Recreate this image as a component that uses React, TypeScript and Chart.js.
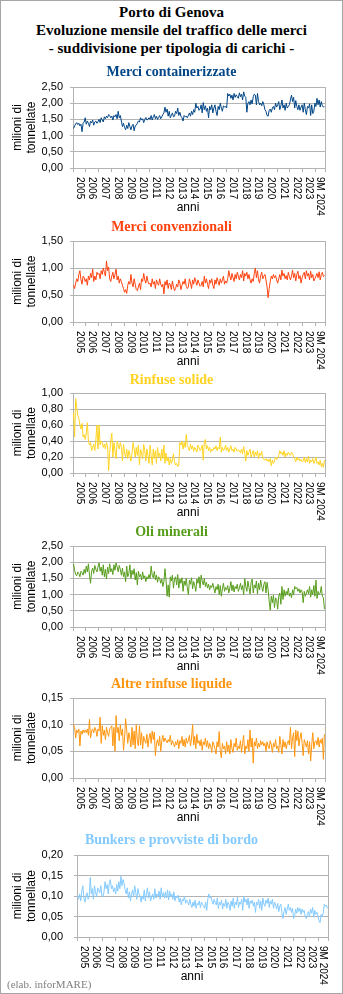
import React, { useEffect, useRef } from 'react';
import { Chart, registerables } from 'chart.js';

Chart.register(...registerables);

// ---------- DATA (monthly, Jan 2005 – Sep 2024, million tonnes) ----------
const yearLabels = [
  '2005', '2006', '2007', '2008', '2009', '2010', '2011', '2012', '2013', '2014',
  '2015', '2016', '2017', '2018', '2019', '2020', '2021', '2022', '2023', '9M 2024',
];
const monthsPerYear = [12, 12, 12, 12, 12, 12, 12, 12, 12, 12, 12, 12, 12, 12, 12, 12, 12, 12, 12, 9];

const merciContainerizzate = [
  1.22, 1.30, 1.36, 1.40, 1.34, 1.38, 1.30, 1.35, 1.12, 1.38, 1.42, 1.55,
  1.35, 1.45, 1.38, 1.28, 1.44, 1.40, 1.48, 1.32, 1.42, 1.45, 1.38, 1.43,
  1.50, 1.40, 1.55, 1.48, 1.42, 1.58, 1.52, 1.60, 1.55, 1.65, 1.62, 1.55,
  1.60, 1.48, 1.62, 1.58, 1.65, 1.52, 1.75, 1.55, 1.62, 1.45, 1.28, 1.38,
  1.25, 1.18, 1.32, 1.22, 1.40, 1.28, 1.18, 1.30, 1.35, 1.15, 1.30, 1.32,
  1.38, 1.45, 1.42, 1.55, 1.48, 1.52, 1.40, 1.50, 1.56, 1.48, 1.50, 1.55,
  1.50, 1.62, 1.48, 1.58, 1.65, 1.52, 1.60, 1.50, 1.56, 1.62, 1.52, 1.58,
  1.65, 1.70, 1.88, 1.72, 1.82, 1.60, 1.75, 1.55, 1.62, 1.70, 1.58, 1.60,
  1.75, 1.68, 1.85, 1.62, 1.72, 1.60, 1.55, 1.45, 1.62, 1.58, 1.60, 1.55,
  1.62, 1.70, 1.60, 1.75, 1.65, 1.80, 1.72, 2.00, 1.85, 1.90, 1.78, 1.82,
  1.95, 1.70, 2.02, 1.80, 1.92, 1.75, 1.85, 1.55, 1.90, 1.80, 1.95, 1.70,
  1.85, 1.95, 1.75, 1.62, 1.90, 1.80, 2.00, 1.85, 1.75, 1.92, 1.88, 1.90,
  1.85, 2.30, 2.22, 2.28, 2.15, 2.25, 2.10, 2.30, 2.18, 2.26, 2.20, 2.15,
  2.32, 2.20, 2.28, 2.10, 2.35, 2.22, 2.18, 1.72, 2.00, 2.05, 1.95, 2.10,
  1.98, 2.20, 2.28, 2.25, 1.95, 2.30, 2.05, 1.95, 2.00, 1.92, 2.05, 1.95,
  1.80, 1.75, 1.62, 1.60, 1.78, 1.82, 1.72, 1.85, 1.90, 1.80, 2.00, 1.88,
  1.95, 2.05, 1.80, 1.92, 2.10, 1.85, 1.95, 1.78, 2.00, 1.85, 1.90, 1.95,
  2.10, 2.25, 2.05, 2.18, 1.85, 2.08, 1.90, 1.80, 1.95, 1.78, 1.88, 1.95,
  1.72, 2.00, 1.80, 1.65, 1.90, 1.85, 1.98, 1.62, 1.95, 1.68, 1.75, 2.00,
  1.90, 2.15, 1.95, 2.10, 1.88, 2.05, 1.92, 1.88, 1.90,
];

const merciConvenzionali = [
  0.68, 0.62, 0.72, 0.80, 0.75, 0.88, 0.95, 0.78, 0.70, 0.85, 0.82, 0.75,
  0.80, 0.68, 0.85, 0.78, 0.90, 0.82, 0.98, 0.75, 0.85, 0.78, 0.92, 0.88,
  0.90, 0.80, 0.95, 0.88, 1.00, 0.92, 0.85, 1.13, 0.95, 1.02, 0.80, 0.75,
  0.85, 0.92, 0.80, 0.88, 0.98, 0.78, 0.85, 0.72, 0.80, 0.75, 0.68, 0.62,
  0.55, 0.60, 0.53, 0.68, 0.75, 0.70, 0.88, 0.72, 0.65, 0.80, 0.70, 0.60,
  0.58, 0.65, 0.72, 0.60, 0.80, 0.75, 0.90, 0.78, 0.72, 0.85, 0.75, 0.70,
  0.72, 0.65, 0.80, 0.70, 0.75, 0.62, 0.78, 0.72, 0.68, 0.80, 0.70, 0.65,
  0.70, 0.52, 0.75, 0.68, 0.78, 0.62, 0.72, 0.70, 0.60, 0.76, 0.65, 0.58,
  0.62, 0.70, 0.65, 0.78, 0.72, 0.60, 0.68, 0.75, 0.70, 0.80, 0.66, 0.62,
  0.65, 0.80, 0.72, 0.62, 0.78, 0.70, 0.82, 0.75, 0.68, 0.78, 0.72, 0.66,
  0.68, 0.75, 0.65, 0.85, 0.72, 0.80, 0.70, 0.62, 0.78, 0.72, 0.80, 0.68,
  0.62, 0.78, 0.70, 0.82, 0.75, 0.68, 0.80, 0.72, 0.78, 0.85, 0.70, 0.76,
  0.72, 0.80, 0.95, 0.85, 0.78, 0.90, 0.82, 0.75, 0.88, 0.80, 0.92, 0.85,
  0.78, 0.88, 0.82, 0.95, 0.76, 0.90, 0.85, 0.92, 0.80, 0.88, 0.78, 0.72,
  0.80, 0.75, 0.90, 1.00, 0.82, 0.95, 0.78, 0.72, 0.86, 0.92, 0.80, 0.85,
  0.88, 0.78, 0.65, 0.45, 0.62, 0.75, 0.85, 0.80, 0.88, 0.82, 0.86, 0.78,
  0.72, 0.80, 0.88, 0.78, 0.96, 0.85, 0.90, 0.80, 0.86, 0.78, 0.92, 0.84,
  0.78, 0.85, 0.96, 0.82, 0.90, 0.76, 0.88, 0.94, 0.80, 0.86, 0.72, 0.82,
  0.88, 0.92, 0.80, 0.95, 0.85, 0.90, 0.78, 0.94, 0.82, 0.88, 0.76, 0.80,
  0.85, 0.90, 0.82, 0.93, 0.78, 0.88, 0.92, 0.84, 0.86,
];

const rinfuseSolide = [
  0.75, 0.45, 0.93, 0.82, 0.72, 0.68, 0.60, 0.55, 0.62, 0.45, 0.48, 0.42,
  0.50, 0.63, 0.40, 0.35, 0.38, 0.28, 0.32, 0.36, 0.28, 0.42, 0.60, 0.30,
  0.60, 0.35, 0.40, 0.38, 0.32, 0.36, 0.30, 0.38, 0.34, 0.03, 0.25, 0.40,
  0.50, 0.20, 0.38, 0.28, 0.18, 0.40, 0.35, 0.30, 0.38, 0.32, 0.15, 0.36,
  0.25, 0.20, 0.30, 0.18, 0.28, 0.22, 0.15, 0.25, 0.38, 0.30, 0.20, 0.32,
  0.22, 0.35, 0.10, 0.30, 0.25, 0.18, 0.36, 0.28, 0.15, 0.30, 0.22, 0.12,
  0.35, 0.22, 0.10, 0.30, 0.18, 0.28, 0.12, 0.32, 0.20, 0.25, 0.15, 0.30,
  0.18, 0.35, 0.12, 0.25, 0.15, 0.20, 0.10, 0.18, 0.12, 0.16, 0.24, 0.14,
  0.10, 0.12, 0.08, 0.10, 0.38, 0.35, 0.40, 0.30, 0.38, 0.32, 0.48, 0.34,
  0.32, 0.28, 0.36, 0.30, 0.34, 0.27, 0.32, 0.30, 0.26, 0.35, 0.32, 0.28,
  0.30, 0.35, 0.16, 0.38, 0.42, 0.30, 0.34, 0.28, 0.32, 0.26, 0.30, 0.28,
  0.32, 0.30, 0.34, 0.28, 0.32, 0.30, 0.45, 0.26, 0.32, 0.28, 0.30, 0.35,
  0.28, 0.32, 0.26, 0.30, 0.34, 0.28, 0.30, 0.26, 0.32, 0.30, 0.27, 0.29,
  0.28, 0.25, 0.30, 0.24, 0.33, 0.26, 0.15, 0.28, 0.22, 0.26, 0.30, 0.20,
  0.24, 0.28, 0.20, 0.26, 0.22, 0.28, 0.18, 0.25, 0.22, 0.27, 0.18, 0.17,
  0.16, 0.18, 0.15, 0.17, 0.14, 0.18, 0.09, 0.16, 0.12, 0.15, 0.20, 0.17,
  0.18, 0.22, 0.28, 0.24, 0.26, 0.22, 0.28, 0.20, 0.25, 0.22, 0.26, 0.24,
  0.22, 0.26, 0.24, 0.20, 0.18, 0.14, 0.20, 0.16, 0.18, 0.15, 0.17, 0.14,
  0.15, 0.20, 0.13, 0.18, 0.14, 0.21, 0.12, 0.16, 0.14, 0.18, 0.12, 0.15,
  0.20, 0.12, 0.14, 0.10, 0.16, 0.08, 0.12, 0.07, 0.16,
];

const oliMinerali = [
  1.95, 1.75, 1.62, 1.58, 1.70, 1.65, 1.55, 1.72, 1.68, 1.60, 1.78, 1.65,
  1.88, 1.70, 1.95, 1.60, 1.35, 1.72, 1.82, 1.65, 1.90, 1.78, 1.70, 1.85,
  1.98, 1.72, 1.85, 1.60, 1.92, 1.55, 1.78, 1.48, 1.85, 1.65, 1.95, 1.70,
  1.80, 1.62, 1.92, 1.75, 1.98, 1.85, 1.70, 1.90, 1.78, 1.60, 1.82, 1.55,
  1.70, 1.40, 1.88, 1.55, 1.65, 1.92, 1.50, 1.75, 1.62, 1.80, 1.45, 1.68,
  1.30, 1.72, 1.55, 1.62, 1.45, 1.70, 1.50, 1.58, 1.40, 1.55, 1.48, 1.62,
  1.50, 1.88, 1.60, 1.52, 1.72, 1.45, 1.60, 1.38, 1.55, 1.50, 1.35, 1.48,
  1.25, 1.40, 1.80, 1.45, 0.95, 1.30, 0.92, 1.55, 1.42, 1.60, 1.20, 1.48,
  1.55, 1.30, 1.62, 1.20, 1.48, 1.35, 1.52, 1.10, 1.42, 1.28, 1.50, 1.22,
  1.00, 1.45, 1.32, 1.52, 1.18, 1.40, 1.28, 1.10, 1.48, 1.35, 1.55, 1.20,
  1.60, 1.42, 1.30, 1.50, 1.25, 1.38, 1.20, 1.32, 1.15, 1.28, 1.22, 1.35,
  1.20, 1.05, 1.25, 1.15, 1.32, 1.00, 1.28, 0.95, 1.18, 1.35, 1.10, 1.22,
  1.15, 1.28, 1.05, 1.20, 1.40, 1.12, 1.30, 1.08, 1.25, 1.18, 1.32, 1.10,
  1.20, 1.35, 1.15, 1.28, 1.00, 1.50, 1.25, 1.10, 1.42, 1.22, 1.02, 1.38,
  1.48, 1.05, 1.30, 1.20, 1.42, 1.02, 1.35, 1.15, 1.45, 1.25, 1.10, 1.32,
  1.40, 1.05, 1.38, 1.15, 0.80, 0.52, 0.95, 0.75, 0.98, 0.60, 0.90, 0.85,
  0.55, 0.95, 1.05, 0.70, 1.25, 0.85, 1.15, 0.95, 1.10, 1.00, 1.20, 0.95,
  1.05, 0.90, 1.15, 1.00, 1.25, 1.18, 1.22, 1.10, 1.18, 1.05, 1.15, 1.08,
  0.75, 1.10, 0.95, 1.05, 1.15, 1.02, 1.25, 0.92, 1.15, 1.00, 1.28, 0.95,
  1.45, 0.88, 1.10, 1.00, 1.05, 1.25, 0.95, 0.90, 0.55,
];

const altreRinfuseLiquide = [
  0.100, 0.095, 0.075, 0.090, 0.085, 0.092, 0.060, 0.088, 0.082, 0.090, 0.085, 0.090,
  0.085, 0.092, 0.080, 0.110, 0.075, 0.088, 0.092, 0.085, 0.095, 0.090, 0.078, 0.092,
  0.088, 0.114, 0.065, 0.098, 0.080, 0.090, 0.072, 0.095, 0.085, 0.078, 0.092, 0.095,
  0.098, 0.060, 0.095, 0.050, 0.117, 0.085, 0.095, 0.070, 0.100, 0.080, 0.092, 0.052,
  0.075, 0.111, 0.090, 0.065, 0.085, 0.075, 0.058, 0.095, 0.062, 0.088, 0.055, 0.100,
  0.070, 0.060, 0.098, 0.062, 0.085, 0.055, 0.078, 0.070, 0.065, 0.082, 0.058, 0.075,
  0.084, 0.065, 0.088, 0.072, 0.086, 0.042, 0.065, 0.072, 0.060, 0.078, 0.050, 0.070,
  0.080, 0.068, 0.075, 0.070, 0.066, 0.072, 0.068, 0.080, 0.062, 0.070, 0.065, 0.058,
  0.068, 0.062, 0.072, 0.055, 0.070, 0.065, 0.078, 0.060, 0.072, 0.058, 0.075, 0.065,
  0.070, 0.080, 0.060, 0.075, 0.100, 0.062, 0.078, 0.055, 0.082, 0.065, 0.070, 0.060,
  0.072, 0.052, 0.068, 0.062, 0.075, 0.058, 0.070, 0.055, 0.065, 0.060, 0.048, 0.068,
  0.062, 0.055, 0.045, 0.068, 0.058, 0.087, 0.050, 0.038, 0.065, 0.055, 0.060, 0.045,
  0.068, 0.050, 0.062, 0.045, 0.072, 0.055, 0.048, 0.065, 0.058, 0.075, 0.052, 0.060,
  0.055, 0.070, 0.048, 0.065, 0.080, 0.045, 0.060, 0.055, 0.072, 0.050, 0.090, 0.058,
  0.075, 0.028, 0.068, 0.060, 0.075, 0.055, 0.065, 0.058, 0.070, 0.062, 0.068, 0.060,
  0.065, 0.050, 0.068, 0.060, 0.055, 0.070, 0.062, 0.048, 0.065, 0.058, 0.072, 0.055,
  0.060, 0.048, 0.078, 0.062, 0.045, 0.072, 0.058, 0.068, 0.055, 0.065, 0.070, 0.062,
  0.095, 0.055, 0.075, 0.085, 0.040, 0.090, 0.070, 0.088, 0.060, 0.075, 0.085, 0.065,
  0.042, 0.072, 0.065, 0.058, 0.070, 0.045, 0.068, 0.032, 0.062, 0.085, 0.055, 0.068,
  0.070, 0.062, 0.076, 0.058, 0.072, 0.065, 0.075, 0.035, 0.082,
];

const bunkersProvviste = [
  0.098, 0.092, 0.105, 0.088, 0.112, 0.125, 0.095, 0.085, 0.100, 0.108, 0.092, 0.098,
  0.145, 0.105, 0.118, 0.092, 0.125, 0.110, 0.098, 0.120, 0.115, 0.108, 0.125, 0.100,
  0.098, 0.110, 0.135, 0.118, 0.128, 0.105, 0.132, 0.140, 0.118, 0.125, 0.110, 0.120,
  0.105, 0.128, 0.112, 0.135, 0.118, 0.148, 0.125, 0.140, 0.130, 0.115, 0.105, 0.120,
  0.095, 0.110, 0.088, 0.105, 0.115, 0.098, 0.125, 0.108, 0.092, 0.118, 0.105, 0.100,
  0.085, 0.100, 0.092, 0.115, 0.088, 0.105, 0.120, 0.095, 0.110, 0.088, 0.098, 0.105,
  0.092, 0.118, 0.095, 0.105, 0.100, 0.112, 0.092, 0.120, 0.098, 0.108, 0.095, 0.110,
  0.095, 0.115, 0.090, 0.112, 0.098, 0.105, 0.092, 0.110, 0.088, 0.100, 0.095, 0.102,
  0.085, 0.095, 0.078, 0.092, 0.088, 0.100, 0.082, 0.090, 0.085, 0.078, 0.092, 0.080,
  0.072, 0.085, 0.075, 0.090, 0.070, 0.082, 0.078, 0.088, 0.072, 0.085, 0.080, 0.075,
  0.070, 0.085, 0.065, 0.092, 0.105, 0.095, 0.098, 0.088, 0.080, 0.092, 0.085, 0.078,
  0.095, 0.070, 0.085, 0.078, 0.090, 0.068, 0.082, 0.075, 0.092, 0.070, 0.085, 0.080,
  0.065, 0.088, 0.075, 0.095, 0.070, 0.085, 0.078, 0.098, 0.072, 0.085, 0.080, 0.092,
  0.065, 0.100, 0.085, 0.092, 0.078, 0.095, 0.070, 0.088, 0.082, 0.090, 0.075, 0.085,
  0.060, 0.085, 0.078, 0.092, 0.070, 0.088, 0.065, 0.095, 0.080, 0.075, 0.090, 0.082,
  0.095, 0.072, 0.088, 0.080, 0.092, 0.070, 0.085, 0.078, 0.068, 0.082, 0.062, 0.075,
  0.080, 0.058, 0.045, 0.062, 0.072, 0.055, 0.068, 0.080, 0.065, 0.072, 0.060, 0.070,
  0.045, 0.052, 0.068, 0.058, 0.072, 0.062, 0.070, 0.055, 0.068, 0.060, 0.065, 0.050,
  0.045, 0.055, 0.062, 0.050, 0.068, 0.058, 0.072, 0.048, 0.065, 0.055, 0.060, 0.052,
  0.040, 0.035, 0.055, 0.050, 0.058, 0.080, 0.075, 0.078, 0.070,
];

const yAxisTitle = ['milioni di', 'tonnellate'];
const xAxisTitle = 'anni';
const mainTitle = [
  'Porto di Genova',
  'Evoluzione mensile del traffico delle merci',
  '- suddivisione per tipologia di carichi -',
];
const credit = '(elab. inforMARE)';

// ---------- STYLE / LAYOUT ----------
const W = 343;
const H = 994;
const GRID = '#b3b3b3';
const PAD_TOP = 20;
const BOTTOM_AREA = 52;
const SANS = '"Liberation Sans", Arial, sans-serif';
const SERIF = '"Liberation Serif", "Times New Roman", serif';

type Panel = {
  title: string;
  color: string;
  values: number[];
  max: number;
  step: number;
  titleTop: number;
  top: number;
  bottom: number;
  left: number;
  right: number;
  tickPad: number;
};

const panels: Panel[] = [
  { title: 'Merci containerizzate', color: '#004586', values: merciContainerizzate, max: 2.5, step: 0.5, titleTop: 63, top: 87, bottom: 168, left: 73, right: 325, tickPad: 7 },
  { title: 'Merci convenzionali', color: '#ff420e', values: merciConvenzionali, max: 1.5, step: 0.5, titleTop: 218, top: 241, bottom: 322, left: 73, right: 325, tickPad: 7 },
  { title: 'Rinfuse solide', color: '#ffd320', values: rinfuseSolide, max: 1.0, step: 0.2, titleTop: 371, top: 393, bottom: 473, left: 73, right: 325, tickPad: 7 },
  { title: 'Oli minerali', color: '#579d1c', values: oliMinerali, max: 2.5, step: 0.5, titleTop: 523, top: 546, bottom: 627, left: 73, right: 325, tickPad: 7 },
  { title: 'Altre rinfuse liquide', color: '#ff950e', values: altreRinfuseLiquide, max: 0.15, step: 0.05, titleTop: 675, top: 698, bottom: 778, left: 73, right: 325, tickPad: 7 },
  { title: 'Bunkers e provviste di bordo', color: '#83caff', values: bunkersProvviste, max: 0.2, step: 0.05, titleTop: 831, top: 855, bottom: 937, left: 77, right: 328, tickPad: 11 },
];

// year boundaries and label centres derived from monthsPerYear
const yearBounds: number[] = [0];
monthsPerYear.forEach((m) => yearBounds.push(yearBounds[yearBounds.length - 1] + m));
const labelCenters = monthsPerYear.map((m, i) => yearBounds[i] + m / 2);
const totalMonths = yearBounds[yearBounds.length - 1];

const fmt = (v: number) => Number(v).toFixed(2).replace('.', ',');

const decoPlugin = {
  id: 'decoPlugin',
  afterDraw(chart: any) {
    const { ctx, chartArea } = chart;
    const xs = chart.scales.x;
    ctx.save();
    ctx.fillStyle = '#000';
    // rotated year labels (reading downward)
    ctx.font = `10px ${SANS}`;
    ctx.textAlign = 'left';
    ctx.textBaseline = 'middle';
    yearLabels.forEach((lab, i) => {
      const px = xs.getPixelForValue(labelCenters[i]);
      ctx.save();
      ctx.translate(px, chartArea.bottom + 9);
      ctx.rotate(Math.PI / 2);
      ctx.fillText(lab, 0, 0);
      ctx.restore();
    });
    // x axis title
    ctx.font = `12px ${SANS}`;
    ctx.textAlign = 'center';
    ctx.textBaseline = 'middle';
    ctx.fillText(xAxisTitle, chartArea.left + 115, chartArea.bottom + 40);
    // y axis title (two lines, rotated)
    const cy = (chartArea.top + chartArea.bottom) / 2;
    ctx.textBaseline = 'alphabetic';
    [21, 35].forEach((bx, i) => {
      ctx.save();
      ctx.translate(bx, cy);
      ctx.rotate(-Math.PI / 2);
      ctx.fillText(yAxisTitle[i], 0, 0);
      ctx.restore();
    });
    ctx.restore();
  },
};

function PanelChart({ p }: { p: Panel }) {
  const ref = useRef<HTMLCanvasElement>(null);
  const canvasTop = p.top - PAD_TOP;
  const canvasH = p.bottom - p.top + PAD_TOP + BOTTOM_AREA;

  useEffect(() => {
    if (!ref.current) return;
    const chart = new Chart(ref.current, {
      type: 'line',
      data: {
        datasets: [
          {
            data: p.values.map((v, i) => ({ x: i + 0.5, y: v })),
            borderColor: p.color,
            borderWidth: 1,
            pointRadius: 0,
            tension: 0,
            fill: false,
          },
        ],
      },
      options: {
        animation: false,
        responsive: false,
        maintainAspectRatio: false,
        events: [],
        layout: { padding: { top: PAD_TOP, bottom: 0, left: 0, right: W - p.right } },
        plugins: { legend: { display: false }, tooltip: { enabled: false }, title: { display: false } },
        scales: {
          x: {
            type: 'linear',
            min: 0,
            max: totalMonths,
            afterBuildTicks: (s: any) => {
              s.ticks = yearBounds.map((v) => ({ value: v }));
            },
            afterFit: (s: any) => {
              s.height = BOTTOM_AREA;
            },
            ticks: { display: false },
            grid: {
              drawOnChartArea: true,
              color: (c: any) => (c.tick && c.tick.value === totalMonths ? GRID : 'rgba(0,0,0,0)'),
              tickColor: GRID,
              tickLength: 4,
            },
            border: { color: GRID },
          },
          y: {
            min: 0,
            max: p.max,
            afterFit: (s: any) => {
              s.width = p.left;
            },
            ticks: {
              stepSize: p.step,
              autoSkip: false,
              color: '#000',
              padding: p.tickPad,
              font: { family: SANS, size: 11 },
              callback: (v: any) => fmt(v),
            },
            grid: { color: GRID, tickColor: GRID, tickLength: 3 },
            border: { color: GRID },
          },
        },
      },
      plugins: [decoPlugin],
    } as any);
    return () => chart.destroy();
  }, [p]);

  return (
    <canvas
      ref={ref}
      width={W}
      height={canvasH}
      style={{ position: 'absolute', left: 0, top: canvasTop, width: W, height: canvasH }}
    />
  );
}

export default function App() {
  const titleTops = [3, 21, 39];
  return (
    <div style={{ position: 'absolute', left: 0, top: 0, width: W, height: H, background: '#fff', overflow: 'hidden' }}>
      {mainTitle.map((t, i) => (
        <div
          key={t}
          style={{
            position: 'absolute', left: 0, top: titleTops[i], width: W, height: 18, lineHeight: '18px',
            textAlign: 'center', fontFamily: SERIF, fontWeight: 'bold', fontSize: 15, color: '#000', whiteSpace: 'nowrap',
          }}
        >
          {t}
        </div>
      ))}
      {panels.map((p) => (
        <PanelChart key={p.title} p={p} />
      ))}
      {panels.map((p) => (
        <div
          key={'t' + p.title}
          style={{
            position: 'absolute', left: 0, top: p.titleTop, width: W, height: 18, lineHeight: '18px',
            textAlign: 'center', fontFamily: SERIF, fontWeight: 'bold', fontSize: 14, color: p.color, whiteSpace: 'nowrap',
          }}
        >
          {p.title}
        </div>
      ))}
      <div
        style={{
          position: 'absolute', left: 7, top: 977, height: 14, lineHeight: '14px',
          fontFamily: SERIF, fontSize: 11, color: '#808080', whiteSpace: 'nowrap',
        }}
      >
        {credit}
      </div>
      <div style={{ position: 'absolute', left: 0, top: 0, width: W, height: H, boxSizing: 'border-box', border: '1px solid #a6a6a6', pointerEvents: 'none' }} />
    </div>
  );
}
